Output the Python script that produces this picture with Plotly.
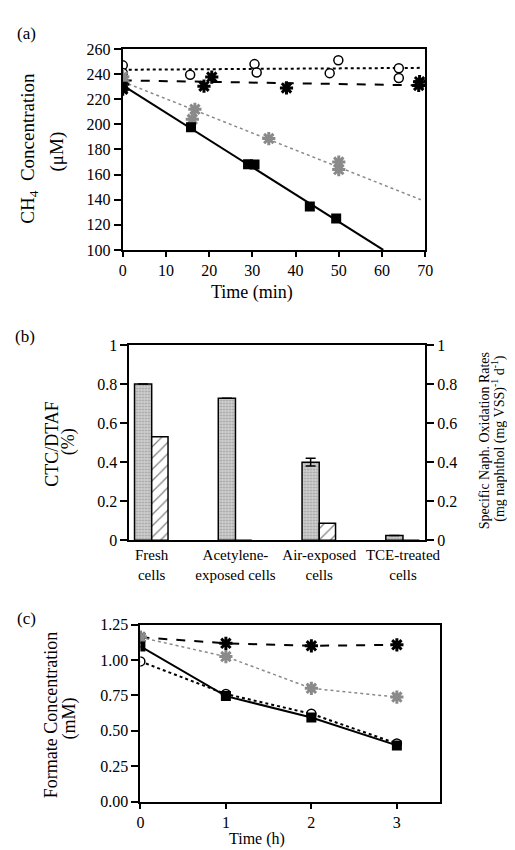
import plotly.graph_objects as go

# ---------------- Panel (a): CH4 concentration vs time ----------------
a_circ_x = [0, 0, 15.6, 30.5, 31, 47.9, 49.9, 63.9, 63.9, 69]
a_circ_y = [247, 241, 239.5, 248, 241.3, 240.8, 251, 244.7, 236.9, 233]
a_bstar_x = [0, 0, 18.8, 20.6, 37.9, 68.5, 68.7]
a_bstar_y = [228, 232, 230.4, 237.7, 229, 231, 234]
a_gstar_x = [0, 0, 16.1, 16.7, 33.8, 50, 50]
a_gstar_y = [238, 234, 204, 212, 188.7, 170, 164]
a_sq_x = [0, 15.8, 29, 30.5, 43.3, 49.4]
a_sq_y = [230, 197.8, 168.3, 168, 134.5, 125]
# fitted lines (end points)
a_fit_circ_x = [0, 69]
a_fit_circ_y = [243.5, 245]
a_fit_bstar_x = [0, 70]
a_fit_bstar_y = [235, 231]
a_fit_gstar_x = [0, 69]
a_fit_gstar_y = [234, 140]
a_fit_sq_x = [0, 60.3]
a_fit_sq_y = [231, 100]

# ---------------- Panel (b): bar chart ----------------
b_categories = ["Fresh<br>cells", "Acetylene-<br>exposed cells", "Air-exposed<br>cells", "TCE-treated<br>cells"]
b_ctc = [0.80, 0.727, 0.40, 0.025]
b_ctc_err = [0, 0, 0.02, 0]
b_naph = [0.53, 0, 0.087, 0]
b_ticks = [0, 0.2, 0.4, 0.6, 0.8, 1]
b_ticklabels = ["0", "0.2", "0.4", "0.6", "0.8", "1"]

# ---------------- Panel (c): formate concentration ----------------
c_time = [0, 1, 2, 3]
c_bstar = [1.16, 1.118, 1.10, 1.107]
c_gstar = [1.16, 1.024, 0.80, 0.738]
c_sq = [1.096, 0.745, 0.594, 0.397]
c_circ = [0.99, 0.76, 0.62, 0.41]

FONT = "Liberation Serif"
GRAY = "#8a8a8a"

fig = go.Figure()

# ---- panel a traces
fig.add_trace(go.Scatter(x=a_fit_circ_x, y=a_fit_circ_y, mode="lines",
                         line=dict(color="black", width=2, dash="dot"), xaxis="x", yaxis="y"))
fig.add_trace(go.Scatter(x=a_fit_bstar_x, y=a_fit_bstar_y, mode="lines",
                         line=dict(color="black", width=2, dash="dash"), xaxis="x", yaxis="y"))
fig.add_trace(go.Scatter(x=a_fit_gstar_x, y=a_fit_gstar_y, mode="lines",
                         line=dict(color=GRAY, width=1.5, dash="dot"), xaxis="x", yaxis="y"))
fig.add_trace(go.Scatter(x=a_fit_sq_x, y=a_fit_sq_y, mode="lines",
                         line=dict(color="black", width=2), xaxis="x", yaxis="y"))
fig.add_trace(go.Scatter(x=a_circ_x, y=a_circ_y, mode="markers",
                         marker=dict(symbol="circle", size=9, color="white", line=dict(color="black", width=1.5)),
                         xaxis="x", yaxis="y"))
fig.add_trace(go.Scatter(x=a_bstar_x, y=a_bstar_y, mode="markers",
                         marker=dict(symbol="asterisk-open", size=11, color="black", line=dict(color="black", width=3)),
                         xaxis="x", yaxis="y"))
fig.add_trace(go.Scatter(x=a_gstar_x, y=a_gstar_y, mode="markers",
                         marker=dict(symbol="asterisk-open", size=11, color=GRAY, line=dict(color=GRAY, width=3)),
                         xaxis="x", yaxis="y"))
fig.add_trace(go.Scatter(x=a_sq_x, y=a_sq_y, mode="markers",
                         marker=dict(symbol="square", size=10, color="black"),
                         xaxis="x", yaxis="y"))

# ---- panel b traces
b_x = list(range(len(b_categories)))
fig.add_trace(go.Bar(x=b_x, y=b_ctc, width=0.205, offset=-0.205,
                     marker=dict(color="#c4c4c4", line=dict(color="black", width=1.5),
                                 pattern=dict(shape=".", fgcolor="#6a6a6a", bgcolor="#d0d0d0", size=3, solidity=0.3)),
                     error_y=dict(type="data", array=b_ctc_err, color="black", thickness=1.5, width=5),
                     xaxis="x2", yaxis="y2"))
fig.add_trace(go.Bar(x=b_x, y=b_naph, width=0.195, offset=0,
                     marker=dict(color="white", line=dict(color="black", width=1.5),
                                 pattern=dict(shape="/", fgcolor="black", bgcolor="white", size=8, solidity=0.15)),
                     xaxis="x2", yaxis="y3"))

# ---- panel c traces
fig.add_trace(go.Scatter(x=c_time, y=c_bstar, mode="lines+markers",
                         line=dict(color="black", width=2, dash="dash"),
                         marker=dict(symbol="asterisk-open", size=11, color="black", line=dict(color="black", width=3)),
                         xaxis="x3", yaxis="y4"))
fig.add_trace(go.Scatter(x=c_time, y=c_gstar, mode="lines+markers",
                         line=dict(color=GRAY, width=1.5, dash="dot"),
                         marker=dict(symbol="asterisk-open", size=11, color=GRAY, line=dict(color=GRAY, width=3)),
                         xaxis="x3", yaxis="y4"))
fig.add_trace(go.Scatter(x=c_time, y=c_circ, mode="lines+markers",
                         line=dict(color="black", width=2, dash="dot"),
                         marker=dict(symbol="circle", size=9, color="white", line=dict(color="black", width=1.5)),
                         xaxis="x3", yaxis="y4"))
fig.add_trace(go.Scatter(x=c_time, y=c_sq, mode="lines+markers",
                         line=dict(color="black", width=2),
                         marker=dict(symbol="square", size=10, color="black"),
                         xaxis="x3", yaxis="y4"))

W, H = 515, 850
def px(v):
    return v / W
def py(v):
    return 1 - v / H

axis_common = dict(showline=True, linecolor="black", linewidth=2, mirror=True, ticks="outside",
                   tickcolor="black", tickwidth=1.5, ticklen=7, showgrid=False, zeroline=False,
                   tickfont=dict(family=FONT, size=16, color="black"))
xaxis_common = {**axis_common, "ticklen": 5}

fig.update_layout(
    width=W, height=H, margin=dict(l=0, r=0, t=0, b=0),
    paper_bgcolor="white", plot_bgcolor="white", showlegend=False,
    font=dict(family=FONT, color="black"),
    xaxis=dict(domain=[px(115), px(429)], range=[0, 70], dtick=10, anchor="y", **xaxis_common),
    yaxis=dict(domain=[py(238.7), py(33.7)], range=[100, 260], dtick=20, anchor="x", **axis_common),
    xaxis2=dict(domain=[px(122), px(429)], range=[-0.265, 3.265], anchor="y2",
                tickvals=b_x, ticktext=b_categories,
                **{**axis_common, "ticks": "", "tickfont": dict(family=FONT, size=15, color="black")}),
    yaxis2=dict(domain=[py(535), py(335.7)], range=[0, 1], anchor="x2", tickvals=b_ticks, ticktext=b_ticklabels,
                **{**axis_common, "mirror": False}),
    yaxis3=dict(overlaying="y2", side="right", range=[0, 1], anchor="x2", tickvals=b_ticks, ticktext=b_ticklabels,
                **{**axis_common, "mirror": False}),
    xaxis3=dict(domain=[px(133.3), px(444)], range=[0, 3.5], tickvals=[0, 1, 2, 3], anchor="y4", **xaxis_common),
    yaxis4=dict(domain=[py(801.7), py(621)], range=[0, 1.25], tickvals=[0, 0.25, 0.5, 0.75, 1.0, 1.25],
                ticktext=["0.00", "0.25", "0.50", "0.75", "1.00", "1.25"], anchor="x3", **axis_common),
)

def ann(text, x, y, size, angle=0):
    fig.add_annotation(text=text, x=px(x), y=py(y), xref="paper", yref="paper", showarrow=False,
                       xanchor="center", yanchor="middle", textangle=angle,
                       font=dict(family=FONT, size=size, color="black"))

ann("(a)", 15, 18, 17)
ann("(b)", 13, 327, 17)
ann("(c)", 15, 615, 17)

ann("CH<sub>4</sub>  Concentration", 18, 135, 19, -90)
ann("(μM)", 47, 138, 19, -90)
ann("Time (min)", 249, 282, 18)

ann("CTC/DTAF", 42, 436, 18, -90)
ann("(%)", 58, 434, 18, -90)
ann("Specific Naph. Oxidation Rates", 490, 433, 14, -90)
ann("(mg naphthol (mg VSS)<sup>-1</sup> d<sup>-1</sup>)", 505, 431, 14, -90)

ann("Formate Concentration", 40, 714, 18, -90)
ann("(mM)", 60, 717, 18, -90)
ann("Time (h)", 254, 840, 16)

fig.write_html("out.html")
